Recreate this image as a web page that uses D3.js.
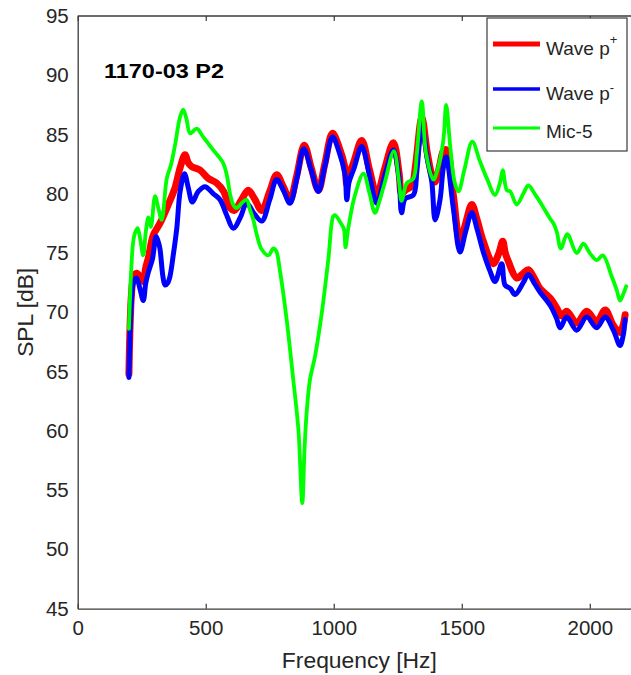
<!DOCTYPE html>
<html><head><meta charset="utf-8">
<script src="https://cdn.jsdelivr.net/npm/d3@7"></script>
<style>body{margin:0;background:#fff}svg{display:block}</style>
</head><body>
<svg id="chart" width="631" height="675"></svg>
<script>
const xTicks = [0, 500, 1000, 1500, 2000];
const yTicks = [45, 50, 55, 60, 65, 70, 75, 80, 85, 90, 95];
const seriesNames = ["Wave p+", "Wave p-", "Mic-5"];
const titleText = "1170-03 P2";

const redFreq = [200,204,210,218,230,244,256,266,276,295,321,354,380,400,419,432,445,478,510,543,570,595,612,640,666,690,719,750,777,803,829,855,885,912,940,965,995,1020,1044,1051,1060,1080,1109,1140,1168,1200,1233,1255,1265,1279,1305,1320,1344,1365,1383,1396,1415,1428,1441,1467,1493,1515,1539,1560,1584,1623,1645,1660,1670,1682,1715,1740,1760,1785,1806,1845,1870,1890,1910,1949,1988,2027,2060,2092,2118,2130,2138];
const redDb   = [64.8,68.5,71.5,73.0,73.3,73.0,72.6,73.8,74.6,76.5,77.5,79.1,80.5,82.2,83.3,82.6,82.3,82.0,81.3,80.9,80.2,78.8,78.6,79.5,80.3,79.6,78.6,80.2,81.6,80.6,79.5,81.5,84.1,82.2,80.3,82.5,85.1,84.0,82.2,80.8,81.5,82.8,84.5,82.0,79.9,82.2,84.3,81.8,80.0,80.3,80.7,82.5,86.4,83.5,81.6,81.0,82.5,83.6,83.7,79.9,76.0,77.5,79.1,77.8,76.0,74.1,75.0,76.0,75.0,74.3,72.9,73.3,73.6,72.8,72.0,71.2,70.4,69.7,70.1,69.1,70.1,69.2,70.2,68.9,68.3,68.9,69.8];

const blueFreq = [200,204,210,218,230,243,256,266,276,292,306,314,321,333,341,352,360,373,387,400,417,432,448,471,497,530,556,580,608,635,660,690,719,750,777,803,829,855,883,912,940,965,995,1020,1044,1051,1060,1080,1109,1140,1168,1200,1233,1255,1265,1279,1311,1325,1344,1365,1383,1396,1415,1428,1439,1467,1493,1515,1539,1560,1584,1610,1630,1656,1669,1690,1708,1740,1760,1785,1806,1845,1870,1884,1910,1949,1988,2027,2060,2092,2118,2130,2138];
const blueDb   = [64.5,68.0,71.0,72.5,72.9,72.0,71.0,72.5,73.4,74.5,76.4,76.0,75.4,73.0,72.3,72.5,73.0,74.8,77.1,80.2,81.7,80.5,79.3,80.2,80.6,80.0,79.5,78.3,77.1,78.0,79.2,78.3,77.7,79.5,81.2,80.3,79.2,81.2,83.8,82.0,80.2,82.3,84.8,83.6,81.6,79.5,81.0,82.2,84.0,81.5,79.2,81.6,83.7,81.3,78.4,79.6,79.9,82.0,85.8,83.0,81.0,77.8,79.5,82.2,83.1,78.8,75.1,76.8,78.4,77.0,75.1,73.5,72.6,74.1,72.3,72.0,71.5,72.5,73.2,72.4,71.7,70.6,69.5,68.7,69.6,68.5,69.6,68.7,69.6,68.5,67.2,68.0,69.4];

const greenFreq = [200,204,210,217,224,234,244,256,266,276,286,302,315,328,348,365,380,400,412,425,439,465,490,529,568,583,595,607,620,640,660,672,686,700,719,745,764,775,790,816,842,862,877,886,894,907,927,953,979,998,1005,1031,1040,1046,1056,1083,1116,1140,1161,1180,1200,1235,1255,1265,1285,1311,1325,1344,1360,1389,1405,1428,1439,1455,1472,1487,1510,1541,1570,1598,1630,1650,1660,1676,1689,1715,1740,1760,1785,1806,1845,1858,1871,1887,1912,1949,1975,2000,2027,2051,2086,2105,2118,2130,2142];
const greenDb   = [68.6,71.0,74.0,76.0,76.7,77.1,76.2,74.8,76.8,78.0,77.2,79.8,78.8,77.8,81.3,82.5,84.1,86.5,87.1,86.3,85.1,85.5,84.8,83.7,82.6,81.5,80.0,79.1,78.8,79.2,79.5,78.7,77.8,76.5,75.3,74.8,75.4,75.2,73.5,69.4,64.3,60.1,53.9,58.5,61.5,64.3,66.3,69.9,74.5,78.1,78.2,77.4,77.0,75.5,77.0,79.9,81.7,80.0,78.4,79.5,81.0,83.6,81.0,79.4,80.9,81.3,83.5,87.8,83.5,81.2,82.0,84.5,87.5,84.0,81.0,80.2,82.0,84.4,82.8,81.3,79.9,81.0,82.0,80.3,80.2,79.1,80.0,80.7,80.0,79.3,77.9,77.5,76.8,75.4,76.6,75.0,75.8,75.0,74.4,74.8,73.0,71.9,71.0,71.5,72.2];

const seriesColors = ["#ff0000", "#0000ff", "#00ff00"];

const series = [
  {name: seriesNames[0], color: seriesColors[0], width: 7, lw: 5, pts: redFreq.map((f,i)=>({f, v: redDb[i]}))},
  {name: seriesNames[1], color: seriesColors[1], width: 5, lw: 3.6, pts: blueFreq.map((f,i)=>({f, v: blueDb[i]}))},
  {name: seriesNames[2], color: seriesColors[2], width: 3.8, lw: 2.8, pts: greenFreq.map((f,i)=>({f, v: greenDb[i]}))}
];

const FONT = "'Liberation Sans', Arial, Helvetica, sans-serif";
const axisColor = "#3a3a3a";
const textColor = "#262626";

const svg = d3.select("#chart");
const L = 77.7, R = 641, T = 16, B = 608.7;
const x = d3.scaleLinear().domain([0, 2200]).range([L, R]);
const y = d3.scaleLinear().domain([45, 95]).range([B, T]);

// data lines
const line = d3.line().x(d => x(d.f)).y(d => y(d.v)).curve(d3.curveCatmullRom.alpha(0.5));
svg.append("g").selectAll("path").data(series).join("path")
  .attr("d", d => line(d.pts))
  .attr("fill", "none")
  .attr("stroke", d => d.color)
  .attr("stroke-width", d => d.width)
  .attr("stroke-linejoin", "round")
  .attr("stroke-linecap", "round");

// bottom axis
const gx = svg.append("g").attr("transform", `translate(0,${B})`)
  .call(d3.axisBottom(x).tickValues(xTicks).tickSizeInner(-5).tickSizeOuter(0).tickPadding(12).tickFormat(d3.format("d")));
// top axis (ticks only)
const gt = svg.append("g").attr("transform", `translate(0,${T})`)
  .call(d3.axisTop(x).tickValues(xTicks).tickSizeInner(-5).tickSizeOuter(0).tickFormat(""));
// left axis
const gy = svg.append("g").attr("transform", `translate(${L},0)`)
  .call(d3.axisLeft(y).tickValues(yTicks).tickSizeInner(0).tickSizeOuter(0).tickPadding(9).tickFormat(d3.format("d")));

[gx, gt, gy].forEach(g => {
  g.select(".domain").attr("stroke", axisColor).attr("stroke-width", 1.3);
  g.selectAll(".tick line").attr("stroke", axisColor).attr("stroke-width", 1.2);
  g.selectAll(".tick text").attr("fill", textColor).style("font-family", FONT).style("font-size", "20.5px");
});
gt.select(".domain").attr("d", `M${L},0H${R}`);

// axis labels
svg.append("text").attr("x", (L + R) / 2).attr("y", 668).attr("text-anchor", "middle")
  .attr("fill", textColor).style("font-family", FONT).style("font-size", "21.5px")
  .attr("textLength", 155).attr("lengthAdjust", "spacingAndGlyphs")
  .text("Frequency [Hz]");
svg.append("text").attr("transform", `translate(33,${(T + B) / 2}) rotate(-90)`).attr("text-anchor", "middle")
  .attr("fill", textColor).style("font-family", FONT).style("font-size", "21.5px")
  .attr("textLength", 89).attr("lengthAdjust", "spacingAndGlyphs")
  .text("SPL [dB]");

// title annotation
svg.append("text").attr("x", 104).attr("y", 78)
  .attr("fill", "#000").style("font-family", FONT).style("font-size", "21px").style("font-weight", "bold")
  .attr("textLength", 120).attr("lengthAdjust", "spacingAndGlyphs")
  .text(titleText);

// legend
const lg = svg.append("g");
lg.append("rect").attr("x", 487).attr("y", 18).attr("width", 140).attr("height", 133)
  .attr("fill", "#fff").attr("stroke", axisColor).attr("stroke-width", 1.2);
const ly = [44, 89, 128];
const lb = [55, 100, 138];
series.forEach((s, i) => {
  lg.append("line").attr("x1", 493).attr("x2", 540).attr("y1", ly[i]).attr("y2", ly[i])
    .attr("stroke", s.color).attr("stroke-width", s.lw);
  const t = lg.append("text").attr("x", 546).attr("y", lb[i]).attr("fill", textColor)
    .style("font-family", FONT).style("font-size", "19px");
  if (i < 2) {
    t.append("tspan").text(s.name.slice(0, -1));
    t.append("tspan").attr("dy", i === 0 ? -11 : -8).style("font-size", "13px").text(s.name.slice(-1));
  } else {
    t.text(s.name);
  }
});
</script>
</body></html>
